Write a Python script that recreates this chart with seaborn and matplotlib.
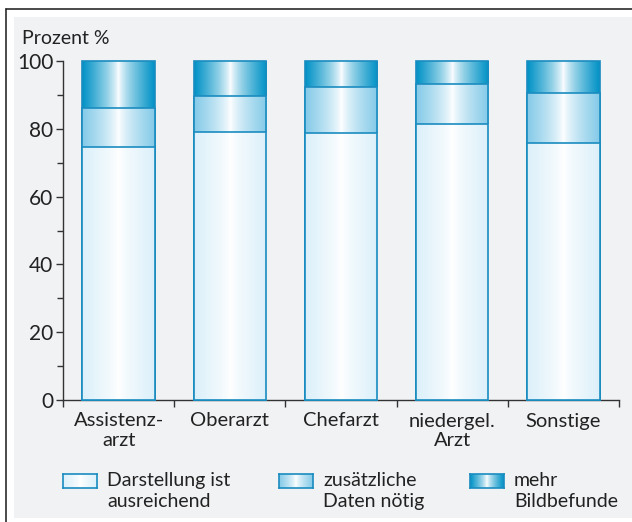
import numpy as np
import seaborn as sns
import matplotlib.pyplot as plt
from matplotlib.colors import LinearSegmentedColormap
from matplotlib.patches import Rectangle
from matplotlib.lines import Line2D

# -------------------------------------------------------------------
# Daten
# -------------------------------------------------------------------
kategorien = ['Assistenz-\narzt', 'Oberarzt', 'Chefarzt', 'niedergel.\nArzt', 'Sonstige']
darstellung = [74.7, 79.1, 78.7, 81.4, 75.8]   # Darstellung ist ausreichend
zusaetzlich = [11.4, 10.7, 13.6, 11.7, 14.9]   # zusätzliche Daten nötig
mehr_befunde = [13.9, 10.2, 7.7, 6.9, 9.3]     # mehr Bildbefunde

legenden_text = ['Darstellung ist\nausreichend', 'zusätzliche\nDaten nötig', 'mehr\nBildbefunde']
randfarben = ['#dcf0fa', '#84cae8', '#0092c6']
linienfarbe = '#1a8cc0'

# -------------------------------------------------------------------
# Layout
# -------------------------------------------------------------------
sns.set_theme(style='white')
plt.rcParams['font.family'] = ['Lato', 'DejaVu Sans']

W, H = 632, 522
fig = plt.figure(figsize=(W / 100, H / 100), dpi=100)
fig.patch.set_facecolor('white')

# grauer Hintergrund + Rahmenlinien
fig.add_artist(Rectangle((14 / W, 1 - 518 / H), (632 - 14) / W, (518 - 17) / H,
                         transform=fig.transFigure, facecolor='#f1f2f4', edgecolor='none', zorder=0))
fig.add_artist(Line2D([6 / W, 1], [1 - 9 / H, 1 - 9 / H], transform=fig.transFigure, color='#2b2b2b', lw=1.2))
fig.add_artist(Line2D([6 / W, 6 / W], [0, 1 - 9 / H], transform=fig.transFigure, color='#2b2b2b', lw=1.2))

ax = fig.add_axes([63 / W, 1 - 400 / H, (619 - 63) / W, (400 - 61) / H])
ax.set_facecolor('none')


def gradient_cmap(farbe):
    return LinearSegmentedColormap.from_list('g', ['white', farbe])


profil = np.abs(np.linspace(-1, 1, 256)) ** 0.75
grad = profil[np.newaxis, :]

# gestapelte Balken: kumulierte Höhen, von oben nach unten überlagert
stufen = [
    np.array(darstellung) + np.array(zusaetzlich) + np.array(mehr_befunde),
    np.array(darstellung) + np.array(zusaetzlich),
    np.array(darstellung),
]
farben_stufen = [randfarben[2], randfarben[1], randfarben[0]]

for i, (werte, farbe) in enumerate(zip(stufen, farben_stufen)):
    sns.barplot(x=kategorien, y=werte, ax=ax, width=0.65, color=farbe,
                edgecolor=linienfarbe, linewidth=1.2, saturation=1)
    z = 2 + i * 2
    for bar in ax.containers[-1]:
        bar.set_facecolor('none')
        bar.set_zorder(z + 1)
        bar.set_clip_on(False)
        x0, y0 = bar.get_x(), bar.get_y()
        x1, y1 = x0 + bar.get_width(), y0 + bar.get_height()
        im = ax.imshow(grad, extent=[x0, x1, y0, y1], aspect='auto',
                       cmap=gradient_cmap(farbe), vmin=0, vmax=1, zorder=z,
                       interpolation='bilinear')
        im.set_clip_path(bar)

ax.set_xlim(-0.5, 4.5)
ax.set_ylim(0, 100)
ax.set_aspect('auto')

ax.set_yticks(range(0, 101, 20))
ax.set_yticks(range(10, 100, 20), minor=True)
ax.set_xticks(range(len(kategorien)))
ax.set_xticklabels(kategorien)
ax.set_xticks(np.arange(-0.5, 5, 1), minor=True)

ax.tick_params(axis='y', which='major', direction='out', length=5, width=1,
               color='#333333', labelsize=15, pad=2, labelcolor='#222222', left=True)
ax.tick_params(axis='y', which='minor', direction='out', length=4, width=1, color='#333333', left=True)
ax.tick_params(axis='x', which='major', length=0, labelsize=14.5, pad=9, labelcolor='#222222')
ax.tick_params(axis='x', which='minor', direction='out', length=5, width=1, color='#333333', bottom=True)
for lbl in ax.get_xticklabels():
    lbl.set_linespacing(1.2)

for s in ['top', 'right']:
    ax.spines[s].set_visible(False)
for s in ['left', 'bottom']:
    ax.spines[s].set_color('#333333')
    ax.spines[s].set_linewidth(1)
ax.set_xlabel('')
ax.set_ylabel('')

fig.text(22 / W, 1 - 39 / H, 'Prozent %', fontsize=14, color='#222222', va='center', ha='left')

# -------------------------------------------------------------------
# Legende mit Verlaufsfeldern
# -------------------------------------------------------------------
legende_x = [63, 279, 470]
for lx, txt, farbe in zip(legende_x, legenden_text, randfarben):
    lax = fig.add_axes([lx / W, 1 - 488 / H, 34 / W, 14 / H])
    lax.imshow(grad, aspect='auto', cmap=gradient_cmap(farbe), vmin=0, vmax=1,
               interpolation='bilinear')
    lax.set_xticks([])
    lax.set_yticks([])
    for sp in lax.spines.values():
        sp.set_color(linienfarbe)
        sp.set_linewidth(1.2)
    fig.text((lx + 44) / W, 1 - 491 / H, txt, fontsize=14, color='#222222',
             va='center', ha='left', linespacing=1.25)

fig.savefig('out.png', dpi=100)
